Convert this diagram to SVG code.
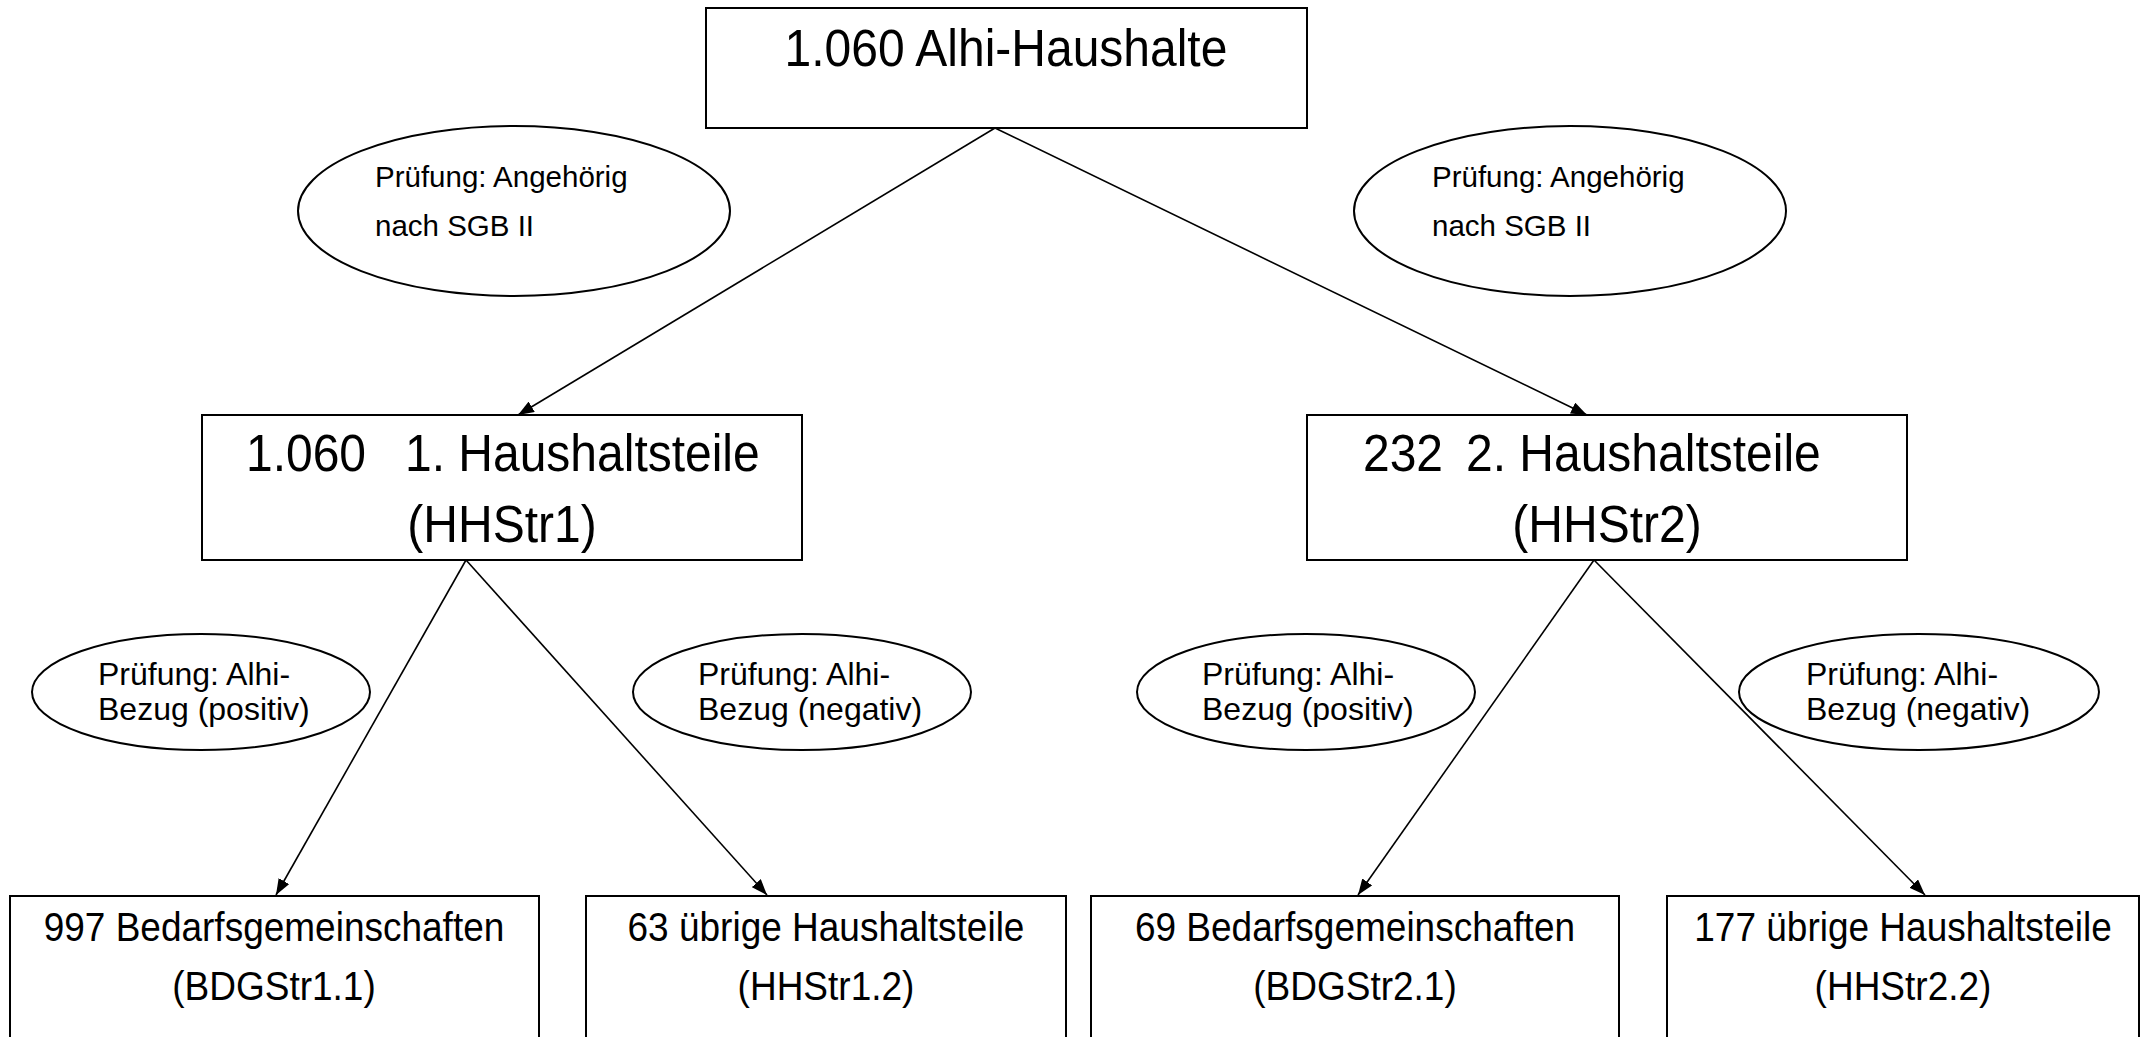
<svg xmlns="http://www.w3.org/2000/svg" width="2141" height="1037" viewBox="0 0 2141 1037">
<style>
  .box { fill: #ffffff; stroke: #000000; stroke-width: 2; }
  .ell { fill: #ffffff; stroke: #000000; stroke-width: 2; }
  .t { font-family: "Liberation Sans", Arial, sans-serif; fill: #000000; }
  .tall { transform-box: fill-box; transform-origin: center; transform: scaleY(1.08); }
  .big { font-size: 48px; }
  .mid { font-size: 37px; }
  .sm { font-size: 32px; }
  .xs { font-size: 29.5px; }
  .c { text-anchor: middle; }
  .conn line { stroke: #000000; stroke-width: 1.6; fill: none; marker-end: url(#arr); }
</style>
<defs>
  <marker id="arr" viewBox="0 0 16 12" refX="16" refY="6" markerWidth="16" markerHeight="12" markerUnits="userSpaceOnUse" orient="auto">
    <path d="M0,0 L16,6 L0,12 Z" fill="#000000"/>
  </marker>
</defs>
<rect width="2141" height="1037" fill="#ffffff"/>

<g id="connectors" class="conn">
  <line x1="995" y1="128" x2="518" y2="415"/>
  <line x1="995" y1="128" x2="1587" y2="415"/>
  <line x1="466" y1="560" x2="276" y2="895"/>
  <line x1="466" y1="560" x2="767" y2="895"/>
  <line x1="1594" y1="560" x2="1358" y2="895"/>
  <line x1="1594" y1="560" x2="1925" y2="895"/>
</g>

<g id="n-top">
  <rect class="box" x="706" y="8" width="601" height="120"/>
  <text class="t big c tall" x="1006" y="65">1.060 Alhi-Haushalte</text>
</g>

<g id="e-top-left">
  <ellipse class="ell" cx="514" cy="211" rx="216" ry="85"/>
  <text class="t xs" x="375" y="187">Prüfung: Angehörig</text>
  <text class="t xs" x="375" y="236">nach SGB II</text>
</g>

<g id="e-top-right">
  <ellipse class="ell" cx="1570" cy="211" rx="216" ry="85"/>
  <text class="t xs" x="1432" y="187">Prüfung: Angehörig</text>
  <text class="t xs" x="1432" y="236">nach SGB II</text>
</g>

<g id="n-hhstr1">
  <rect class="box" x="202" y="415" width="600" height="145"/>
  <text class="t big tall" x="246" y="470">1.060</text>
  <text class="t big tall" x="405" y="470">1. Haushaltsteile</text>
  <text class="t big c tall" x="502" y="541">(HHStr1)</text>
</g>

<g id="n-hhstr2">
  <rect class="box" x="1307" y="415" width="600" height="145"/>
  <text class="t big tall" x="1363" y="470">232</text>
  <text class="t big tall" x="1466" y="470">2. Haushaltsteile</text>
  <text class="t big c tall" x="1607" y="541">(HHStr2)</text>
</g>

<g id="e-alhi-pos-1">
  <ellipse class="ell" cx="201" cy="692" rx="169" ry="58"/>
  <text class="t sm" x="98" y="685">Prüfung: Alhi-</text>
  <text class="t sm" x="98" y="720">Bezug (positiv)</text>
</g>

<g id="e-alhi-neg-1">
  <ellipse class="ell" cx="802" cy="692" rx="169" ry="58"/>
  <text class="t sm" x="698" y="685">Prüfung: Alhi-</text>
  <text class="t sm" x="698" y="720">Bezug (negativ)</text>
</g>

<g id="e-alhi-pos-2">
  <ellipse class="ell" cx="1306" cy="692" rx="169" ry="58"/>
  <text class="t sm" x="1202" y="685">Prüfung: Alhi-</text>
  <text class="t sm" x="1202" y="720">Bezug (positiv)</text>
</g>

<g id="e-alhi-neg-2">
  <ellipse class="ell" cx="1919" cy="692" rx="180" ry="58"/>
  <text class="t sm" x="1806" y="685">Prüfung: Alhi-</text>
  <text class="t sm" x="1806" y="720">Bezug (negativ)</text>
</g>

<g id="n-bdgstr11">
  <rect class="box" x="10" y="896" width="529" height="160"/>
  <text class="t mid c tall" x="274" y="940">997 Bedarfsgemeinschaften</text>
  <text class="t mid c tall" x="274" y="999">(BDGStr1.1)</text>
</g>

<g id="n-hhstr12">
  <rect class="box" x="586" y="896" width="480" height="160"/>
  <text class="t mid c tall" x="826" y="940">63 übrige Haushaltsteile</text>
  <text class="t mid c tall" x="826" y="999">(HHStr1.2)</text>
</g>

<g id="n-bdgstr21">
  <rect class="box" x="1091" y="896" width="528" height="160"/>
  <text class="t mid c tall" x="1355" y="940">69 Bedarfsgemeinschaften</text>
  <text class="t mid c tall" x="1355" y="999">(BDGStr2.1)</text>
</g>

<g id="n-hhstr22">
  <rect class="box" x="1667" y="896" width="472" height="160"/>
  <text class="t mid c tall" x="1903" y="940">177 übrige Haushaltsteile</text>
  <text class="t mid c tall" x="1903" y="999">(HHStr2.2)</text>
</g>
</svg>
